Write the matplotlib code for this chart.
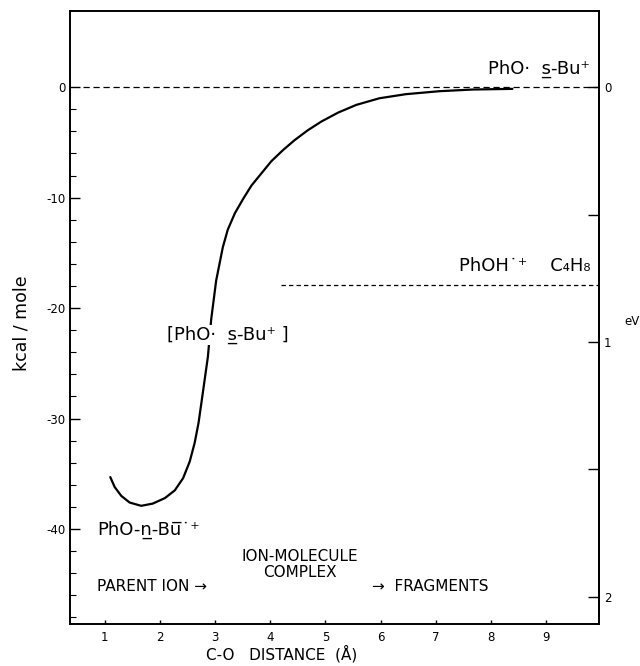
import numpy as np
import matplotlib
matplotlib.use("Agg")
import matplotlib.pyplot as plt
from matplotlib.ticker import FixedLocator

# potential energy curve (C-O distance in A, energy in kcal/mole)
dist = [1.10, 1.18, 1.30, 1.45, 1.66, 1.87, 2.09, 2.27, 2.42, 2.54, 2.63, 2.70,
        2.76, 2.87, 2.93, 3.02, 3.14, 3.23, 3.36, 3.51, 3.66, 3.84, 4.02, 4.23,
        4.44, 4.68, 4.93, 5.23, 5.56, 5.98, 6.46, 7.07, 7.67, 8.39]
energy = [-35.3, -36.2, -37.0, -37.6, -37.9, -37.7, -37.2, -36.5, -35.4, -33.9,
          -32.2, -30.4, -28.3, -24.4, -21.0, -17.5, -14.5, -12.9, -11.4, -10.1,
          -8.9, -7.8, -6.7, -5.7, -4.8, -3.9, -3.1, -2.3, -1.6, -1.0, -0.63,
          -0.36, -0.21, -0.15]

# dissociation limits
limit_sbu = 0.0          # PhO. + s-Bu+
limit_sbu_start = 0.6
limit_c4h8 = -17.9       # PhOH.+ + C4H8
limit_c4h8_start = 4.2

kcal_ticks = [0, -10, -20, -30, -40]
kcal_labels = ["0", "-10", "-20", "-30", "-40"]
ev_ticks = [0, 1, 2]
ev_minor = [0.5, 1.5]
dist_ticks = [1, 2, 3, 4, 5, 6, 7, 8, 9]
KCAL_PER_EV = 23.06

fig = plt.figure(figsize=(6.4, 6.66), dpi=100)
ax = fig.add_axes([70/640, 1-624/666, 529/640, 613/666])

ax.plot(dist, energy, color="black", lw=1.6, solid_capstyle="round",
        solid_joinstyle="round")
ax.plot([limit_sbu_start, 10.5], [limit_sbu, limit_sbu], color="black", lw=0.9,
        ls=(0, (5, 3)))
ax.plot([limit_c4h8_start, 10.5], [limit_c4h8, limit_c4h8], color="black", lw=0.9,
        ls=(0, (3.5, 2.5)))

ax.set_xlim(0.37, 9.96)
ax.set_ylim(-48.6, 6.9)

for s in ax.spines.values():
    s.set_linewidth(1.4)

ax.set_xticks(dist_ticks)
ax.set_xticklabels([str(t) for t in dist_ticks])
ax.set_yticks(kcal_ticks)
ax.set_yticklabels(kcal_labels)
ax.yaxis.set_minor_locator(FixedLocator(np.arange(-48, 0, 2)))
ax.tick_params(axis="both", which="major", direction="in", length=7, width=1,
               labelsize=8.5)
ax.tick_params(axis="x", which="major", length=3, pad=5)
ax.tick_params(axis="y", which="minor", direction="in", length=4, width=0.8)

# eV scale on the right
sec = ax.secondary_yaxis("right", functions=(lambda k: -k / KCAL_PER_EV,
                                             lambda e: -e * KCAL_PER_EV))
sec.set_yticks(ev_ticks)
sec.set_yticklabels([str(t) for t in ev_ticks])
sec.yaxis.set_minor_locator(FixedLocator(ev_minor))
sec.tick_params(which="major", direction="in", length=8, width=1, labelsize=8.5)
sec.tick_params(which="minor", direction="in", length=8, width=1)
sec.spines["right"].set_linewidth(1.4)
ax.text(10.42, -21.2, "eV", fontsize=8.5, ha="left", va="center", clip_on=False)

ax.set_ylabel("kcal / mole", fontsize=12.5)
ax.yaxis.set_label_coords(-0.075, 0.49)
ax.set_xlabel("C-O   DISTANCE  (Å)", fontsize=11)
ax.xaxis.set_label_coords(0.40, -0.034)

# species labels
ax.text(9.8, 1.2, "PhO·  s\u0332-Bu⁺", fontsize=13, ha="right", va="baseline")
ax.text(9.8, -16.6, "PhOH˙⁺    C₄H₈", fontsize=13, ha="right", va="baseline")
ax.text(2.12, -22.9, "[PhO·  s\u0332-Bu⁺ ]", fontsize=13, ha="left", va="baseline",
        bbox=dict(facecolor="white", edgecolor="none", pad=0.5))
ax.text(0.86, -40.5, "PhO-n\u0332-Bu\u0305˙⁺", fontsize=13, ha="left", va="baseline")

ax.text(0.86, -45.6, "PARENT ION →", fontsize=11, ha="left", va="baseline")
ax.text(4.53, -44.3, "ION-MOLECULE\nCOMPLEX", fontsize=11, ha="center",
        va="baseline", linespacing=1.05)
ax.text(5.84, -45.6, "→  FRAGMENTS", fontsize=11, ha="left", va="baseline")

fig.savefig("out.png", dpi=100)
